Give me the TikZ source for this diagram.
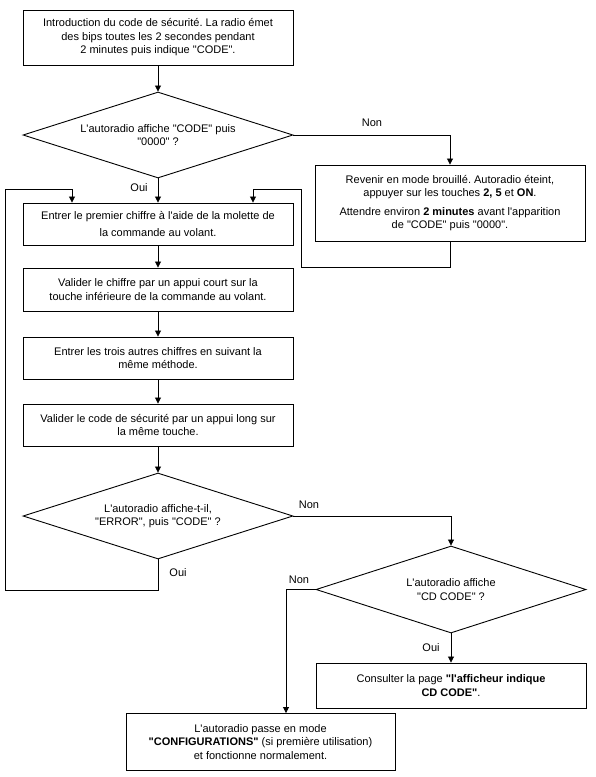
\documentclass[tikz,border=0pt]{standalone}
\usepackage{fontspec}
\newfontfamily\arialf{Liberation Sans}
\usetikzlibrary{shapes.geometric,arrows.meta}
\frenchspacing
\tikzset{
  base/.style={font=\arialf\fontsize{11}{13.5}\selectfont},
  box/.style={base,draw,line width=0.9pt,align=center,inner sep=0pt,minimum width=270pt},
  dia/.style={base,draw,line width=0.9pt,diamond,align=center,inner sep=0pt,aspect=3.1,minimum width=270pt,minimum height=86pt},
  conn/.style={line width=0.8pt},
  arr/.style={conn,-{Triangle[length=6pt,width=6pt]}},
  lbl/.style={base,inner sep=0pt}
}
\begin{document}
\begin{tikzpicture}[x=1pt,y=1pt]
\useasboundingbox (0,0) rectangle (596,-777);
\node[box,minimum height=55pt] (b1) at (158,-37.5) {Introduction du code de sécurité. La radio émet\\des bips toutes les 2 secondes pendant\\2 minutes puis indique "CODE".};
\node[dia] (d1) at (158,-135) {L'autoradio affiche "CODE" puis\\"0000" ?};
\node[box,minimum height=76pt] (bR) at (450,-203) {Revenir en mode brouillé. Autoradio éteint,\\appuyer sur les touches \textbf{2, 5} et \textbf{ON}.\\[5pt]Attendre environ \textbf{2 minutes} avant l'apparition\\de "CODE" puis "0000".};
\node[box,minimum height=42pt] (b2) at (158,-224) {Entrer le premier chiffre à l'aide de la molette de\\[3pt]la commande au volant.};
\node[box,minimum height=43pt] (b3) at (158,-289.5) {Valider le chiffre par un appui court sur la\\touche inférieure de la commande au volant.};
\node[box,minimum height=42pt] (b4) at (158,-358) {Entrer les trois autres chiffres en suivant la\\même méthode.};
\node[box,minimum height=42pt] (b5) at (158,-425) {Valider le code de sécurité par un appui long sur\\la même touche.};
\node[dia] (d2) at (158,-516) {L'autoradio affiche-t-il,\\"ERROR", puis "CODE" ?};
\node[dia,minimum height=87pt] (d3) at (451,-589.5) {L'autoradio affiche\\"CD CODE" ?};
\node[box,minimum height=45pt] (b7) at (451,-685.5) {Consulter la page \textbf{"l'afficheur indique}\\\textbf{CD CODE"}.};
\node[box,minimum width=269pt,minimum height=57pt] (b6) at (260.5,-742) {L'autoradio passe en mode\\\textbf{"CONFIGURATIONS"} (si première utilisation)\\et fonctionne normalement.};
% coordinates
\coordinate (rbot) at (301,-267);
\coordinate (rtop) at (301,-189);
\coordinate (rin) at (253,-189);
\coordinate (lb) at (5,-590);
\coordinate (lt) at (5,-189);
\coordinate (lin) at (72,-189);
\coordinate (nl) at (286,-589.5);
% connectors
\draw[arr] (b1) -- (d1.north);
\draw[arr] (d1.east) -| (bR.north);
\draw[arr] (d1.south) -- (b2.north);
\draw[arr] (bR.south) |- (rbot) -- (rtop) -- (rin) -- (rin |- b2.north);
\draw[arr] (d2.south) |- (lb) -- (lt) -- (lin) -- (lin |- b2.north);
\draw[arr] (b2) -- (b3);
\draw[arr] (b3) -- (b4);
\draw[arr] (b4) -- (b5);
\draw[arr] (b5) -- (d2.north);
\draw[arr] (d2.east) -| (d3.north);
\draw[arr] (d3.west) -- (nl) -- (nl |- b6.north);
\draw[arr] (d3.south) -- (b7.north);
% labels
\node[lbl] (l1) at (372,-123) {Non};
\node[lbl] (l2) at (139,-188) {Oui};
\node[lbl] (l3) at (309,-505) {Non};
\node[lbl] (l4) at (178,-573) {Oui};
\node[lbl] (l5) at (299,-580) {Non};
\node[lbl] (l6) at (431,-648) {Oui};
\end{tikzpicture}
\end{document}
